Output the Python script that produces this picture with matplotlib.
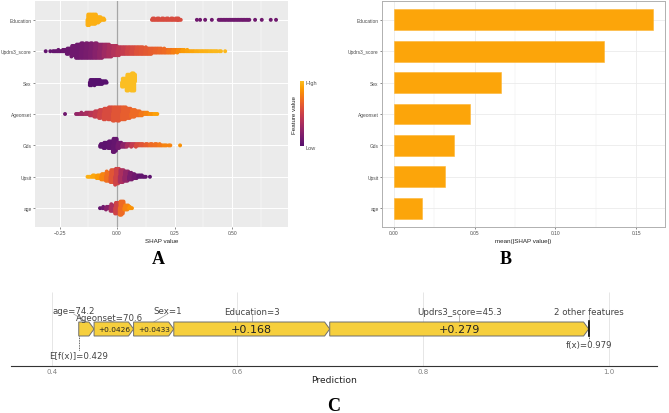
import numpy as np
import matplotlib
matplotlib.use("Agg")
import matplotlib.pyplot as plt
from matplotlib.colors import LinearSegmentedColormap
from matplotlib.patches import Polygon

# ---------------- data ----------------
features = ["Education", "Updrs3_score", "Sex", "Ageonset", "Gds", "Upsit", "age"]

# Panel A: beeswarm, binned SHAP values (bin centres), number of points per bin, scaled feature value (0 low .. 1 high)
edu_shap = [-0.12, -0.10, -0.08, -0.06, 0.16, 0.18, 0.20, 0.22, 0.24, 0.26, 0.272,
            0.347, 0.361, 0.383, 0.412, 0.45, 0.47, 0.49, 0.51, 0.53, 0.55, 0.57, 0.60, 0.629, 0.668, 0.691]
edu_n = [26, 24, 14, 5, 5, 5, 5, 5, 5, 5, 4,
         1, 1, 1, 1, 3, 3, 3, 3, 3, 3, 3, 1, 1, 1, 1]
edu_fv = [0.95, 0.95, 0.95, 0.95, 0.55, 0.55, 0.55, 0.55, 0.55, 0.55, 0.55,
          0.1, 0.1, 0.1, 0.1, 0.1, 0.1, 0.1, 0.1, 0.1, 0.1, 0.1, 0.1, 0.1, 0.1, 0.1]

upd_shap = [-0.31, -0.29, -0.27, -0.25, -0.23, -0.21, -0.19, -0.17, -0.15, -0.13, -0.11, -0.09, -0.07,
            -0.05, -0.03, -0.01, 0.01, 0.03, 0.05, 0.07, 0.09, 0.11, 0.13, 0.15, 0.17, 0.19, 0.21,
            0.23, 0.25, 0.27, 0.29, 0.31, 0.33, 0.35, 0.37, 0.39, 0.41, 0.43, 0.45, 0.47]
upd_n = [1, 1, 3, 4, 6, 14, 25, 33, 35, 35, 35, 35, 33,
         30, 28, 24, 20, 18, 18, 18, 18, 17, 16, 14, 12, 11, 10,
         9, 8, 7, 5, 4, 3, 3, 3, 3, 3, 3, 2, 1]
upd_fv = [0.05, 0.05, 0.06, 0.07, 0.08, 0.08, 0.1, 0.1, 0.12, 0.14, 0.16, 0.2, 0.24,
          0.3, 0.34, 0.38, 0.42, 0.46, 0.5, 0.54, 0.58, 0.6, 0.62, 0.64, 0.66, 0.68, 0.7,
          0.74, 0.78, 0.82, 0.88, 0.9, 0.92, 0.94, 0.95, 0.96, 0.97, 0.98, 0.98, 0.98]

sex_shap = [-0.11, -0.09, -0.07, -0.05, 0.03, 0.05, 0.07]
sex_n = [14, 13, 10, 5, 20, 38, 41]
sex_fv = [0.0, 0.0, 0.0, 0.0, 1.0, 1.0, 1.0]

ageon_shap = [-0.226, -0.17, -0.15, -0.13, -0.11, -0.09, -0.07, -0.05, -0.03, -0.01,
              0.01, 0.03, 0.05, 0.07, 0.09, 0.11, 0.13, 0.15, 0.17]
ageon_n = [1, 3, 4, 6, 9, 14, 20, 26, 30, 32, 32, 30, 24, 18, 12, 8, 5, 3, 3]
ageon_fv = [0.1, 0.25, 0.3, 0.35, 0.4, 0.45, 0.5, 0.55, 0.55, 0.6,
            0.6, 0.65, 0.65, 0.7, 0.7, 0.75, 0.8, 0.85, 0.9]

gds_shap = [-0.065, -0.05, -0.03, -0.01, 0.01, 0.03, 0.05, 0.07, 0.09, 0.11,
            0.13, 0.15, 0.17, 0.19, 0.21, 0.23, 0.274]
gds_n = [9, 14, 18, 32, 14, 9, 7, 7, 7, 5, 5, 5, 5, 4, 3, 2, 1]
gds_fv = [0.03, 0.03, 0.04, 0.06, 0.12, 0.22, 0.35, 0.45, 0.55, 0.6,
          0.65, 0.7, 0.72, 0.75, 0.8, 0.8, 0.85]

ups_shap = [-0.12, -0.10, -0.08, -0.06, -0.04, -0.02, 0.0, 0.02, 0.04, 0.06, 0.08, 0.10, 0.12, 0.143]
ups_n = [3, 5, 9, 15, 22, 30, 37, 30, 24, 17, 10, 6, 3, 1]
ups_fv = [0.95, 0.92, 0.88, 0.8, 0.72, 0.6, 0.5, 0.35, 0.25, 0.15, 0.1, 0.05, 0.05, 0.02]

age_shap = [-0.074, -0.055, -0.04, -0.02, 0.0, 0.02, 0.04, 0.06]
age_n = [1, 4, 7, 16, 26, 32, 12, 4]
age_fv = [0.05, 0.1, 0.2, 0.35, 0.5, 0.7, 0.8, 0.85]

# Panel B: mean |SHAP|
importance = [0.1605, 0.130, 0.0663, 0.047, 0.037, 0.0316, 0.0174]

# Panel C: force plot
c_base = 0.429
c_fx = 0.979
c_labels = ["age=74.2", "Ageonset=70.6", "Sex=1", "Education=3", "Updrs3_score=45.3", "2 other features"]
c_contrib = [0.0165, 0.0426, 0.0433, 0.168, 0.279, 0.0006]
c_text = ["", "+0.0426", "+0.0433", "+0.168", "+0.279", ""]

# ---------------- figure ----------------
W, H = 669, 414
fig = plt.figure(figsize=(6.69, 4.14), dpi=100)
fig.patch.set_facecolor("white")

def fx_(px):
    return px / W

def fy_(py):
    return 1 - py / H

cmap = LinearSegmentedColormap.from_list("inf", plt.cm.inferno(np.linspace(0.25, 0.85, 256)))
SANS = ["Liberation Sans", "DejaVu Sans"]
TXT = "#4D4D4D"

# ---------- Panel A ----------
axA = fig.add_axes([fx_(35), fy_(228), (288 - 35) / W, 226 / H])
axA.set_facecolor("#EBEBEB")
axA.set_xlim(-0.3565, 0.743)
axA.set_ylim(0.4, 7.6)
for s in axA.spines.values():
    s.set_visible(False)
axA.set_xticks([-0.25, 0.0, 0.25, 0.5])
axA.set_xticklabels(["\u22120.25", "0.00", "0.25", "0.50"])
axA.set_xticks([-0.125, 0.125, 0.375, 0.625], minor=True)
axA.set_yticks(range(7, 0, -1))
axA.set_yticklabels(features)
axA.grid(True, which="major", color="white", lw=0.7)
axA.grid(True, which="minor", axis="x", color="white", lw=0.35)
axA.set_axisbelow(True)
axA.tick_params(axis="both", which="major", labelsize=3.5, colors="#333333", labelcolor=TXT,
                length=1.5, width=0.4, pad=1)
axA.tick_params(axis="x", which="minor", length=0)
for t in axA.get_xticklabels() + axA.get_yticklabels():
    t.set_family(SANS)
axA.axvline(0, color="#A6A6A6", lw=0.9, zorder=1)
axA.set_xlabel("SHAP value", fontsize=4.5, color="#222222", family=SANS, labelpad=1.5)

DX = 0.0065
DY = 0.042
rows = [
    (edu_shap, edu_n, edu_fv),
    (upd_shap, upd_n, upd_fv),
    (sex_shap, sex_n, sex_fv),
    (ageon_shap, ageon_n, ageon_fv),
    (gds_shap, gds_n, gds_fv),
    (ups_shap, ups_n, ups_fv),
    (age_shap, age_n, age_fv),
]
xs, ys, cs = [], [], []
for i, (sv, nn, fv) in enumerate(rows):
    yc = 7 - i
    for c, n, f in zip(sv, nn, fv):
        ncol = min(n, 3)
        for k in range(n):
            col = k % ncol
            r = k // ncol
            off = ((r + 1) // 2) * (1 if r % 2 == 1 else -1)
            stag = (0.5 * DX if (r % 2 == 1 and ncol > 1) else 0.0) - (0.25 * DX if ncol > 1 else 0.0)
            xs.append(c + (col - (ncol - 1) / 2) * DX + stag)
            ys.append(yc + off * DY)
            cs.append(f)
axA.scatter(xs, ys, c=cs, cmap=cmap, vmin=0, vmax=1, s=8, linewidths=0, zorder=3)

# colour bar
axCB = fig.add_axes([fx_(300), fy_(147), 3.5 / W, 65 / H])
grad = np.linspace(0, 1, 256).reshape(-1, 1)
axCB.imshow(grad, aspect="auto", cmap=cmap, origin="lower")
axCB.set_xticks([])
axCB.set_yticks([])
for s in axCB.spines.values():
    s.set_visible(False)
fig.text(fx_(306), fy_(83), "High", fontsize=4.0, color=TXT, family=SANS, va="center", ha="left")
fig.text(fx_(306), fy_(148), "Low", fontsize=4.0, color=TXT, family=SANS, va="center", ha="left")
fig.text(fx_(295), fy_(115), "Feature value", fontsize=4.5, color="#222222", family=SANS,
         rotation=90, va="center", ha="center")

# ---------- Panel B ----------
axB = fig.add_axes([fx_(382), fy_(228), (665 - 382) / W, 226 / H])
axB.set_facecolor("white")
axB.set_xlim(-0.0074, 0.1679)
axB.set_ylim(0.4, 7.6)
axB.barh(range(7, 0, -1), importance, height=0.66, color="#FCA50A", edgecolor="#FDB532",
         lw=0.4, zorder=3)
axB.set_xticks([0.0, 0.05, 0.10, 0.15])
axB.set_xticklabels(["0.00", "0.05", "0.10", "0.15"])
axB.set_xticks([0.025, 0.075, 0.125], minor=True)
axB.set_yticks(range(7, 0, -1))
axB.set_yticklabels(features)
axB.grid(True, which="major", color="#EBEBEB", lw=0.6)
axB.grid(True, which="minor", axis="x", color="#EBEBEB", lw=0.3)
axB.set_axisbelow(True)
for s in axB.spines.values():
    s.set_color("#B0B0B0")
    s.set_linewidth(0.7)
axB.tick_params(axis="both", which="major", labelsize=3.5, colors="#333333", labelcolor=TXT,
                length=1.5, width=0.4, pad=1)
axB.tick_params(axis="x", which="minor", length=0)
for t in axB.get_xticklabels() + axB.get_yticklabels():
    t.set_family(SANS)
axB.set_xlabel("mean(|SHAP value|)", fontsize=4.5, color="#222222", family=SANS, labelpad=1.5)

# letters
SERIF = ["Liberation Serif", "DejaVu Serif"]
fig.text(fx_(158), fy_(259), "A", fontsize=13, fontweight="bold", family=SERIF, ha="center", va="center")
fig.text(fx_(506), fy_(259), "B", fontsize=13, fontweight="bold", family=SERIF, ha="center", va="center")
fig.text(fx_(334), fy_(407), "C", fontsize=13, fontweight="bold", family=SERIF, ha="center", va="center")

# ---------- Panel C ----------
axC = fig.add_axes([fx_(11), fy_(367), (657 - 11) / W, 77 / H])
axC.set_xlim(0.356, 1.052)
axC.set_ylim(367, 290)
for k in ["top", "left", "right"]:
    axC.spines[k].set_visible(False)
axC.spines["bottom"].set_color("#333333")
axC.spines["bottom"].set_linewidth(0.8)
axC.set_yticks([])
ticksC = [0.4, 0.6, 0.8, 1.0]
axC.set_xticks(ticksC)
axC.set_xticklabels(["0.4", "0.6", "0.8", "1.0"])
axC.tick_params(axis="x", length=0, pad=1.2, labelsize=5, labelcolor="#808080")
axC.vlines(ticksC, 293, 367, color="#E6E6E6", lw=0.7, zorder=0)
axC.set_xlabel("Prediction", fontsize=6.6, color="#222222", labelpad=1.0)

ytop, ybot, ymid = 323, 337, 330
tip = 0.0055
starts = c_base + np.concatenate([[0], np.cumsum(c_contrib)[:-1]])
ends = c_base + np.cumsum(c_contrib)
label_dx = [-0.0136, -0.0044, 0.0149, 0.0, 0.0, 0.0]
label_y = [312, 319, 312, 313, 313, 313]
for i in range(len(c_contrib)):
    x0, x1 = starts[i], ends[i]
    t = min(tip, (x1 - x0) * 0.6)
    poly = Polygon([(x0, ytop), (x1 - t, ytop), (x1, ymid), (x1 - t, ybot), (x0, ybot)],
                   closed=True, facecolor="#F6CF3D", edgecolor="#6E6E6E", lw=0.7, zorder=3)
    axC.add_patch(poly)
    cx = (x0 + x1) / 2
    if c_text[i]:
        fs = 8 if (x1 - x0) > 0.1 else 5.3
        axC.text(cx, ymid + 0.3, c_text[i], ha="center", va="center", fontsize=fs, color="#222222", zorder=4)
    lx = cx + label_dx[i]
    axC.text(lx, label_y[i], c_labels[i], ha="center", va="center", fontsize=6.2, color="#444444")
    axC.plot([lx, cx], [label_y[i] + 3, ytop], color="#A0A0A0", lw=0.5, zorder=2)

axC.plot([ends[-1], ends[-1]], [ytop - 0.5, ybot + 0.5], color="#111111", lw=1.2, zorder=4)
axC.plot([c_base, c_base], [ybot, 352], color="#333333", lw=0.6, ls=(0, (1, 1)))
axC.text(c_base, 357, "E[f(x)]=%.3f" % c_base, ha="center", va="center", fontsize=6.2, color="#444444")
axC.plot([c_fx, c_fx], [ybot, 341], color="#333333", lw=0.6, ls=(0, (1, 1)))
axC.text(c_fx, 346, "f(x)=%.3f" % c_fx, ha="center", va="center", fontsize=6.2, color="#444444")

fig.savefig("out.png", dpi=100, facecolor="white")
